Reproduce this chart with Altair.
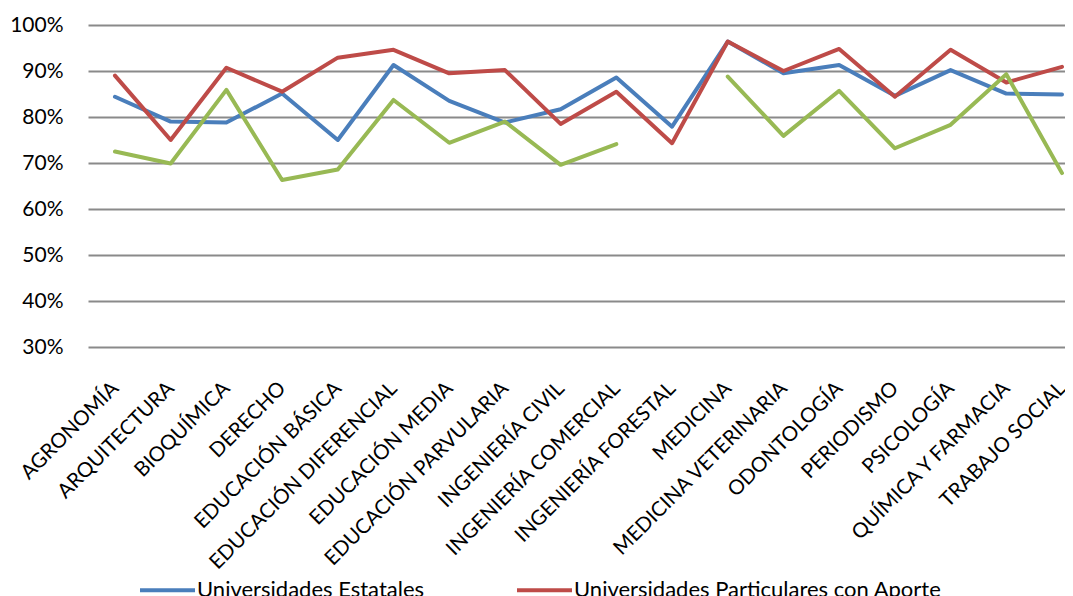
import altair as alt
import pandas as pd

categories = [
    "AGRONOMÍA", "ARQUITECTURA", "BIOQUÍMICA", "DERECHO", "EDUCACIÓN BÁSICA",
    "EDUCACIÓN DIFERENCIAL", "EDUCACIÓN MEDIA", "EDUCACIÓN PARVULARIA",
    "INGENIERÍA CIVIL", "INGENIERÍA COMERCIAL", "INGENIERÍA FORESTAL",
    "MEDICINA", "MEDICINA VETERINARIA", "ODONTOLOGÍA", "PERIODISMO",
    "PSICOLOGÍA", "QUÍMICA Y FARMACIA", "TRABAJO SOCIAL",
]

estatales = [84.4, 79.0, 78.8, 85.1, 75.0, 91.3, 83.5, 78.8, 81.7, 88.6, 77.9,
             96.4, 89.5, 91.3, 84.6, 90.2, 85.1, 84.9]
particulares = [89.0, 75.0, 90.7, 85.5, 92.9, 94.6, 89.5, 90.2, 78.5, 85.5, 74.3,
                96.4, 90.0, 94.8, 84.4, 94.6, 87.5, 90.9]
privadas = [72.5, 69.9, 85.9, 66.3, 68.6, 83.7, 74.4, 79.0, 69.6, 74.1, None,
            88.8, 75.9, 85.7, 73.2, 78.3, 89.3, 67.8]

series_names = [
    "Universidades Estatales",
    "Universidades Particulares con Aporte",
    "Universidades Privadas",
]
colors = ["#4A7EBB", "#BE4B48", "#98B954"]
y_ticks = [0.3, 0.4, 0.5, 0.6, 0.7, 0.8, 0.9, 1.0]

rows = []
for name, vals in zip(series_names, [estatales, particulares, privadas]):
    for cat, v in zip(categories, vals):
        rows.append({"carrera": cat, "serie": name,
                     "valor": (v / 100.0) if v is not None else None})
df = pd.DataFrame(rows)

FONT = "Lato"

chart = (
    alt.Chart(df)
    .mark_line(strokeWidth=4, strokeJoin="round", strokeCap="round",
               invalid="break-paths-show-domains")
    .encode(
        x=alt.X(
            "carrera:N",
            sort=categories,
            scale=alt.Scale(type="point", padding=0.269, align=0.9),
            axis=alt.Axis(
                title=None, labelAngle=-45, labelAlign="right", labelBaseline="middle",
                labelPadding=38, ticks=False, domain=False, grid=False,
                labelFontSize=20.5, labelFont=FONT, labelColor="#000000",
                labelOverlap=False, labelLimit=0,
            ),
        ),
        y=alt.Y(
            "valor:Q",
            scale=alt.Scale(domain=[0.3, 1.0], nice=False, zero=False),
            axis=alt.Axis(
                title=None, format=".0%", values=y_ticks, grid=True,
                gridColor="#8A8A8A", gridWidth=2, ticks=False, domain=False,
                labelPadding=25, labelFontSize=21, labelFont=FONT,
                labelColor="#000000",
            ),
        ),
        color=alt.Color(
            "serie:N",
            scale=alt.Scale(domain=series_names, range=colors),
            legend=alt.Legend(
                title=None, orient="none", legendX=50, legendY=535.5,
                direction="horizontal", columns=2, columnPadding=84,
                symbolType="stroke", symbolSize=3025, symbolStrokeWidth=4,
                labelFontSize=22, labelFont=FONT, labelColor="#000000",
                labelOffset=0, labelLimit=0,
            ),
        ),
    )
    .properties(
        width=977, height=322, autosize="none",
        padding={"left": 80, "top": 17, "right": 0, "bottom": 262},
        background="white",
    )
    .configure_view(stroke=None)
)

chart.save("out.html", embed_options={"renderer": "svg", "actions": False})
